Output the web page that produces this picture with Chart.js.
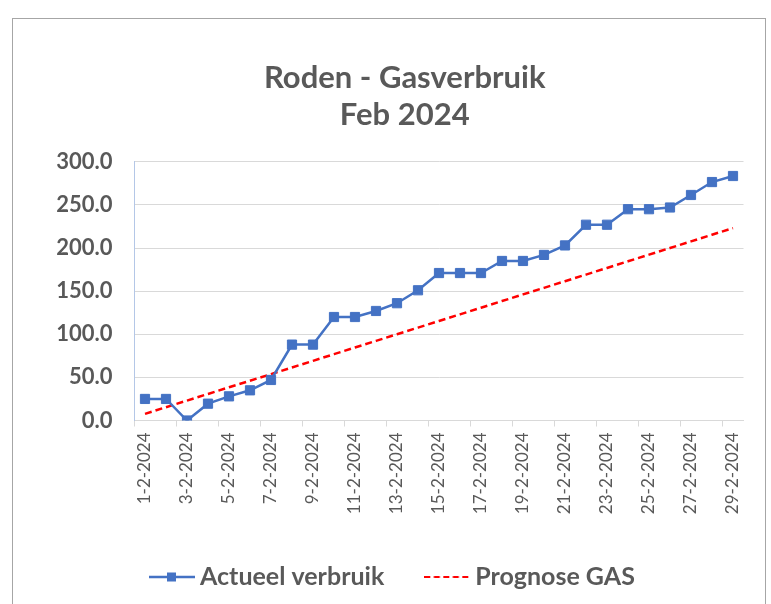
<!DOCTYPE html>
<html>
<head>
<meta charset="utf-8">
<script src="https://cdn.jsdelivr.net/npm/chart.js@4.4.1/dist/chart.umd.min.js"></script>
<style>
  html, body { margin: 0; padding: 0; background: #fff; }
  #wrap { position: relative; width: 771px; height: 604px; overflow: hidden; }
  #frame { position: absolute; left: 12px; top: 18px; width: 752px; height: 600px; border: 1px solid #a6a6a6; pointer-events: none; }
</style>
</head>
<body>
<div id="wrap">
  <canvas id="gasChart"></canvas>
  <div id="frame"></div>
</div>
<script>
// data
const titleLines = ['Roden - Gasverbruik', 'Feb 2024'];
const days = ['1-2-2024', '2-2-2024', '3-2-2024', '4-2-2024', '5-2-2024', '6-2-2024', '7-2-2024',
  '8-2-2024', '9-2-2024', '10-2-2024', '11-2-2024', '12-2-2024', '13-2-2024', '14-2-2024',
  '15-2-2024', '16-2-2024', '17-2-2024', '18-2-2024', '19-2-2024', '20-2-2024', '21-2-2024',
  '22-2-2024', '23-2-2024', '24-2-2024', '25-2-2024', '26-2-2024', '27-2-2024', '28-2-2024', '29-2-2024'];
const actueel = [25, 25, 0, 19.5, 28, 35, 47, 88, 88, 120, 120, 127, 136, 151, 171, 171, 171,
  185, 185, 192, 203, 227, 227, 245, 245, 247, 261.5, 276.5, 283.5];
const prognose = [7.7, 15.4, 23.1, 30.8, 38.5, 46.1, 53.8, 61.5, 69.2, 76.9, 84.6, 92.3, 100.0,
  107.7, 115.4, 123.1, 130.8, 138.5, 146.2, 153.8, 161.5, 169.2, 176.9, 184.6, 192.3, 200.0,
  207.7, 215.4, 223.1];
const yTicks = [0, 50, 100, 150, 200, 250, 300];
const seriesNames = ['Actueel verbruik', 'Prognose GAS'];

const blue = '#4472c4';
const red = '#ff0000';
const grey = '#595959';
const font = 'Lato, "Open Sans", sans-serif';

// legend samples: line with square, dashed line
function sample(draw) {
    const c = document.createElement('canvas');
    c.width = 46; c.height = 14;
    draw(c.getContext('2d'));
    return c;
}
const sampleActueel = sample(ctx => {
    ctx.strokeStyle = blue; ctx.lineWidth = 2.5;
    ctx.beginPath(); ctx.moveTo(0, 7); ctx.lineTo(46, 7); ctx.stroke();
    ctx.fillStyle = blue; ctx.fillRect(18, 2.5, 9, 9);
});
const samplePrognose = sample(ctx => {
    ctx.strokeStyle = red; ctx.lineWidth = 2;
    ctx.setLineDash([6, 3.5]);
    ctx.beginPath(); ctx.moveTo(0, 7); ctx.lineTo(46, 7); ctx.stroke();
});

// title and legend are not centred on the plot in the original
const shiftBlocks = {
    id: 'shiftBlocks',
    afterLayout(chart) {
        const t = chart.titleBlock;
        if (t) { t.left += 8; t.right += 8; }
        const lg = chart.legend;
        if (lg) {
            const dx = 156.5 - (lg.left + lg.options.labels.padding);
            lg.left += dx;
            lg.right += dx;
        }
    }
};

const ctx = document.getElementById('gasChart').getContext('2d');
new Chart(ctx, {
    type: 'line',
    data: {
        labels: days,
        datasets: [{
            label: seriesNames[0],
            data: actueel,
            borderColor: blue,
            backgroundColor: blue,
            borderWidth: 2.5,
            pointStyle: 'rect',
            pointRadius: 6.5,
            pointBorderWidth: 1,
            tension: 0
        }, {
            label: seriesNames[1],
            data: prognose,
            borderColor: red,
            backgroundColor: red,
            borderWidth: 2.5,
            borderDash: [7, 4],
            pointRadius: 0,
            tension: 0
        }]
    },
    options: {
        responsive: true,
        maintainAspectRatio: false,
        animation: false,
        layout: { padding: { left: 50, right: 27.5, top: 59.5, bottom: 7.5 } },
        plugins: {
            title: {
                display: true,
                text: titleLines,
                color: grey,
                font: { family: font, size: 31, weight: 'bold', lineHeight: 1.19 },
                padding: { top: 0, bottom: 28.5 }
            },
            legend: {
                position: 'bottom',
                align: 'start',
                maxHeight: 79.5,
                labels: {
                    color: grey,
                    font: { family: font, size: 25, weight: 'bold' },
                    usePointStyle: true,
                    pointStyleWidth: 31,
                    padding: 47.5,
                    generateLabels(chart) {
                        const items = Chart.defaults.plugins.legend.labels.generateLabels(chart);
                        items[0].pointStyle = sampleActueel;
                        items[1].pointStyle = samplePrognose;
                        return items;
                    }
                }
            },
            tooltip: { enabled: false }
        },
        scales: {
            x: {
                offset: true,
                afterFit: scale => { scale.height = 96.5; },
                grid: {
                    offset: true,
                    drawOnChartArea: false,
                    drawTicks: true,
                    tickLength: 6,
                    tickColor: c => c.index % 2 === 0 ? '#d9d9d9' : 'rgba(0,0,0,0)'
                },
                border: { color: '#d9d9d9', width: 1 },
                ticks: {
                    autoSkip: false,
                    minRotation: 90,
                    maxRotation: 90,
                    padding: 6,
                    color: grey,
                    font: { family: font, size: 17 },
                    callback: (v, i) => i % 2 === 0 ? days[i] : ''
                }
            },
            y: {
                min: 0,
                max: 300,
                afterBuildTicks: scale => { scale.ticks = yTicks.map(v => ({ value: v })); },
                afterFit: scale => { scale.width = 84.5; },
                grid: { color: '#d9d9d9', drawTicks: false },
                border: { color: '#b4c7e7', width: 1 },
                ticks: {
                    padding: 22,
                    color: grey,
                    font: { family: font, size: 22, weight: 'bold' },
                    callback: v => Number(v).toFixed(1)
                }
            }
        }
    },
    plugins: [shiftBlocks]
});
</script>
</body>
</html>
